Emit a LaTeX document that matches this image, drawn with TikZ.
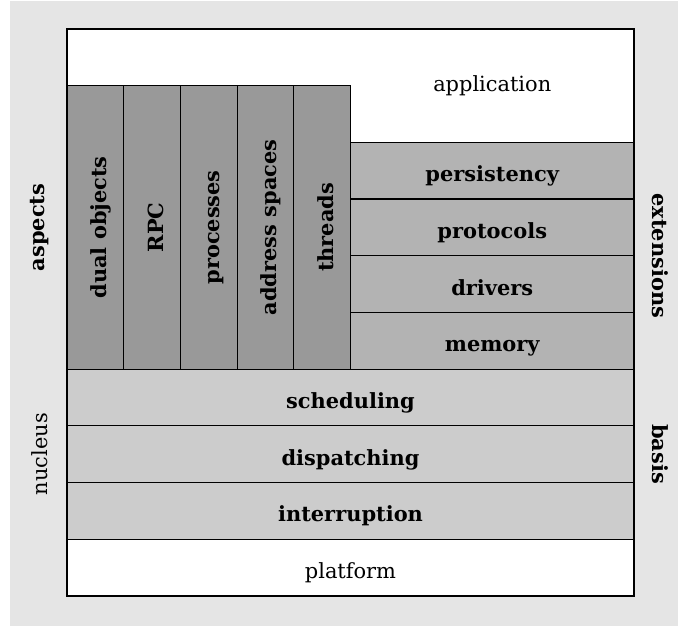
\documentclass[tikz,border=0pt]{standalone}
\usepackage{fontspec}
\setmainfont{DejaVu Serif}
\definecolor{aspectgray}{HTML}{999999}
\definecolor{extgray}{HTML}{B3B3B3}
\definecolor{basegray}{HTML}{CCCCCC}
\definecolor{backgray}{HTML}{E5E5E5}
\begin{document}
\begin{tikzpicture}[font=\fontsize{10.5}{12.6}\selectfont,
  cell/.style={draw, line width=.6pt, inner sep=0pt, text height=11pt, text depth=0pt, font=\fontsize{10.5}{12.6}\selectfont\bfseries},
  aspect/.style={cell, fill=aspectgray, rotate=90, minimum width=5cm, minimum height=1cm},
  extension/.style={cell, fill=extgray, minimum width=5cm, minimum height=1cm},
  layer/.style={cell, fill=basegray, minimum width=10cm, minimum height=1cm}]
\useasboundingbox (-1.182,-0.529) rectangle (10.776,10.511);
\fill[backgray] (-1.005,-0.529) rectangle (10.776,10.494);
\node[draw, fill=white, line width=.6pt, inner sep=0pt, minimum width=10cm, minimum height=10cm] (box) at (5,5) {};
\node (application) at (7.5,9) {application};
\node[text height=11pt, text depth=0pt] (platform) at (5,0.5) {platform};
% aspects
\foreach \name [count=\i] in {dual objects, RPC, processes, address spaces, threads}{
\node[aspect] (asp\i) at (\i-0.5,6.5) {\name};
}
% extensions
\foreach \name [count=\i] in {memory, drivers, protocols, persistency}{
\node[extension] (ext\i) at (7.5,\i+3.5) {\name};
}
% basis
\foreach \name [count=\i] in {interruption, dispatching, scheduling}{
\node[layer] (lay\i) at (5,\i+0.5) {\name};
}
\node[rotate=90, font=\fontsize{10.5}{12.6}\selectfont\bfseries] (aspects) at (-0.476,6.5) {aspects};
\node[rotate=90] (nucleus) at (-0.476,2.5) {nucleus};
\node[rotate=-90, font=\fontsize{10.5}{12.6}\selectfont\bfseries] (extensions) at (10.46,6) {extensions};
\node[rotate=-90, font=\fontsize{10.5}{12.6}\selectfont\bfseries] (basis) at (10.46,2.5) {basis};
\end{tikzpicture}
\end{document}
